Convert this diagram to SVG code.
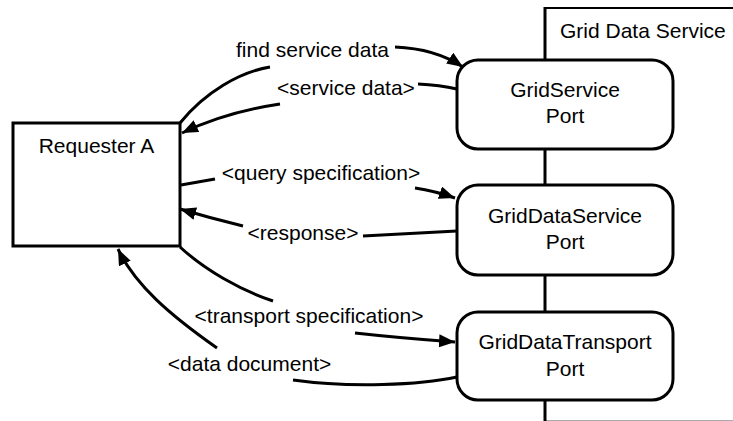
<svg xmlns="http://www.w3.org/2000/svg" width="733" height="421" viewBox="0 0 733 421">
<style>
text{font-family:"Liberation Sans",Arial,sans-serif;font-size:21px;fill:#000}
.box{fill:#fff;stroke:#000;stroke-width:3}
.port{fill:#fff;stroke:#000;stroke-width:3}
.c{fill:none;stroke:#000;stroke-width:3}
</style>
<defs>
<marker id="ah" markerUnits="userSpaceOnUse" markerWidth="18" markerHeight="14" refX="16" refY="6.5" orient="auto">
<path d="M0,0 L16,6.5 L0,13 z" fill="#000"/>
</marker>
</defs>
<rect width="733" height="421" fill="#fff"/>
<g id="grid-data-service">
<line x1="545" y1="420.5" x2="733" y2="420.5" stroke="#aaa" stroke-width="1"/>
<line x1="545" y1="8" x2="733" y2="8" stroke="#000" stroke-width="2"/>
<line x1="545" y1="7" x2="545" y2="421" stroke="#000" stroke-width="3"/>
<text x="560" y="38">Grid Data Service</text>
</g>
<g id="requester-a">
<rect class="box" x="13" y="123" width="167" height="123"/>
<text x="96.5" y="153" text-anchor="middle">Requester A</text>
</g>
<g id="gridservice-port">
<rect class="port" x="457" y="60" width="216" height="89" rx="21"/>
<text x="565" y="97" text-anchor="middle">GridService</text>
<text x="565" y="123" text-anchor="middle">Port</text>
</g>
<g id="griddataservice-port">
<rect class="port" x="457" y="185" width="216" height="90" rx="21"/>
<text x="565" y="223" text-anchor="middle">GridDataService</text>
<text x="565" y="249" text-anchor="middle">Port</text>
</g>
<g id="griddatatransport-port">
<rect class="port" x="457" y="312" width="216" height="88" rx="21"/>
<text x="565" y="349" text-anchor="middle">GridDataTransport</text>
<text x="565" y="376" text-anchor="middle">Port</text>
</g>
<g id="connectors">
<path class="c" d="M180,123 C205,92 240,72 270,67"/>
<path class="c" d="M395,47 C420,48 445,55 463,67" marker-end="url(#ah)"/>
<path class="c" d="M457,89 Q440,85 418,84"/>
<path class="c" d="M280,104 C240,110 205,122 182,133" marker-end="url(#ah)"/>
<path class="c" d="M181,185 L215,179"/>
<path class="c" d="M415,188 Q435,191 455,198" marker-end="url(#ah)"/>
<path class="c" d="M457,231 L363,236"/>
<path class="c" d="M243,226 Q210,218 180,209" marker-end="url(#ah)"/>
<path class="c" d="M180,247 C205,270 240,290 273,301"/>
<path class="c" d="M355,333 Q400,338 455,342" marker-end="url(#ah)"/>
<path class="c" d="M457,377 C420,385 350,388 293,380"/>
<path class="c" d="M217,348 C170,315 135,285 118,249" marker-end="url(#ah)"/>
</g>
<g id="labels">
<text x="312.5" y="57" text-anchor="middle">find service data</text>
<text x="346" y="95" text-anchor="middle">&lt;service data&gt;</text>
<text x="321" y="180" text-anchor="middle">&lt;query specification&gt;</text>
<text x="303" y="240" text-anchor="middle">&lt;response&gt;</text>
<text x="309" y="323" text-anchor="middle">&lt;transport specification&gt;</text>
<text x="249.5" y="371" text-anchor="middle">&lt;data document&gt;</text>
</g>
</svg>
